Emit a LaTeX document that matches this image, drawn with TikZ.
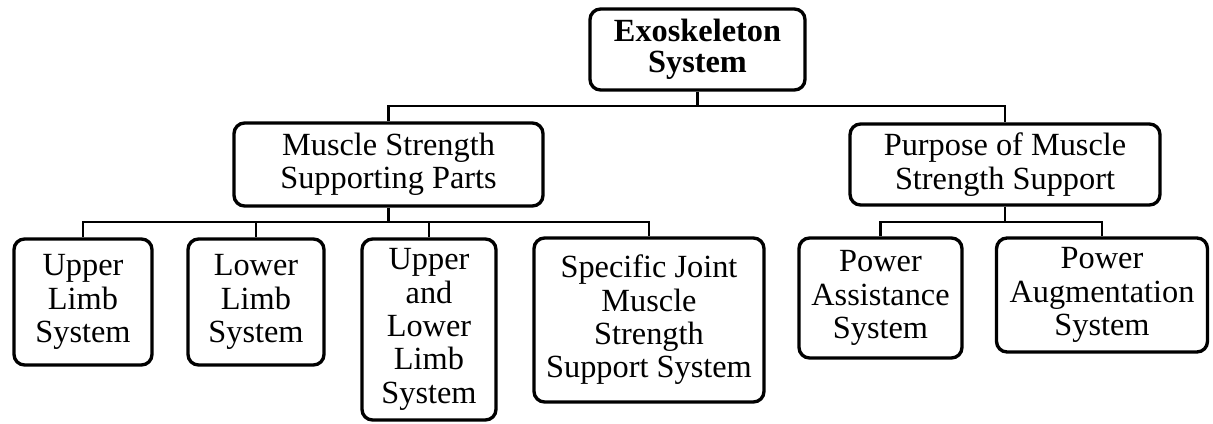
\documentclass[tikz,border=0pt]{standalone}
\usepackage{fontspec}
\setmainfont{Liberation Serif}
\usepackage{tikz}
\usetikzlibrary{calc,positioning}
\tikzset{>=latex}
\tikzset{
  part/.style={draw, line width=1.9pt, rounded corners=6pt, align=center, inner sep=2pt,
    font=\fontsize{18.4}{19}\selectfont},
  link/.style={line width=1.3pt}
}
\begin{document}
\begin{tikzpicture}[x=0.02cm, y=-0.02cm]
\useasboundingbox (0,0) rectangle (1213,423);
% top level
\node[part, minimum width=4.3cm, minimum height=1.62cm, font=\fontsize{18.4}{17.5}\selectfont\bfseries] (root) at (697.5,49.5) {Exoskeleton\\System};
\node[part, minimum width=6.18cm, minimum height=1.66cm] (msp) at (388.5,164.5) {Muscle Strength\\Supporting Parts};
\node[part, minimum width=6.2cm, minimum height=1.62cm] (pms) at (1005,164.5) {Purpose of Muscle\\Strength Support};
% parts
\node[part, minimum width=2.76cm, minimum height=2.52cm] (ul) at (83,302) {Upper\\Limb\\System};
\node[part, minimum width=2.72cm, minimum height=2.52cm] (ll) at (256,302) {Lower\\Limb\\System};
\node[part, minimum width=2.68cm, minimum height=3.62cm] (ull) at (429,329.5) {Upper\\and\\Lower\\Limb\\System};
\node[part, minimum width=4.6cm, minimum height=3.28cm] (sj) at (649,320) {Specific Joint\\Muscle\\Strength\\Support System};
% purposes
\node[part, minimum width=3.26cm, minimum height=2.4cm] (pa) at (880.5,298) {Power\\Assistance\\System};
\node[part, minimum width=4.22cm, minimum height=2.28cm] (pag) at (1102,295) {Power\\Augmentation\\System};

\draw[link] (root.south) -- ++(0,14) coordinate (rj);
\draw[link] (rj) -| (msp.north);
\draw[link] (rj) -| (pms.north);
\draw[link] (msp.south) -- ++(0,14) coordinate (mj);
\foreach \c in {ul,ll,ull,sj}
  \draw[link] (mj) -| (\c.north);
\draw[link] (pms.south) -- ++(0,15) coordinate (pj);
\foreach \c in {pa,pag}
  \draw[link] (pj) -| (\c.north);
\end{tikzpicture}
\end{document}
